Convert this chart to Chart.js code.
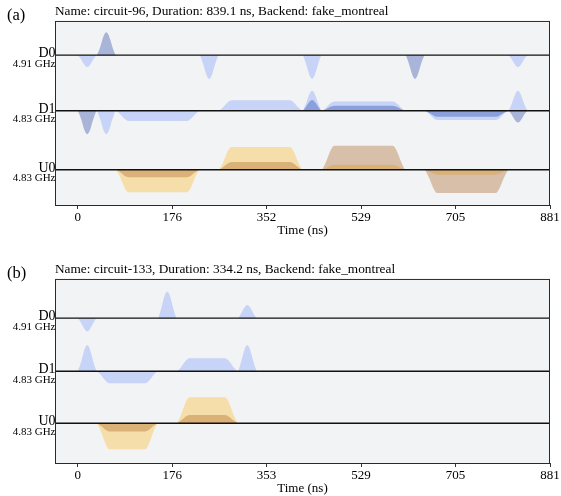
<!DOCTYPE html>
<html>
<head>
<meta charset="utf-8">
<script src="https://cdn.jsdelivr.net/npm/chart.js@4.4.0/dist/chart.umd.min.js"></script>
<style>
  body { margin: 0; background: #fff; }
  #wrap { position: relative; width: 561px; height: 496px; }
  canvas { position: absolute; left: 0; }
</style>
</head>
<body>
<div id="wrap">
  <canvas id="chart_a" width="561" height="240" style="top:0px"></canvas>
  <canvas id="chart_b" width="561" height="256" style="top:240px"></canvas>
</div>
<script>
let tickValues = [0, 176.2, 352.4, 528.7, 704.9, 881.1];
let tickLabelsA = ["0", "176", "352", "529", "705", "881"];
let tickLabelsB = ["0", "176", "353", "529", "705", "881"];

let channels = ["D0", "D1", "U0"];
let freqs = ["4.91 GHz", "4.83 GHz", "4.83 GHz"];

// gaussian envelope sampled at 11 even steps across one pulse
let gaussShape = [0, 0.17, 0.41, 0.69, 0.91, 1, 0.91, 0.69, 0.41, 0.17, 0];

// pulses: [start ns, duration ns, rise/fall ns (0 = plain gaussian), real amp, imag amp]
let d0PulsesA = [
    [0, 35.6, 0, 0, -0.47],
    [35.6, 35.6, 0, 0.92, 0],
    [227.5, 35.6, 0, 0, -0.95],
    [419.5, 35.6, 0, 0, -0.95],
    [611.5, 35.6, 0, -0.95, 0],
    [803.5, 35.6, 0, 0, -0.47]
];
let d1PulsesA = [
    [0, 35.6, 0, -0.94, 0],
    [35.6, 35.6, 0, 0, -0.94],
    [71.1, 156.4, 24, 0, -0.41],
    [263.1, 156.4, 24, 0, 0.42],
    [419.5, 35.6, 0, 0.43, 0.8],
    [455.1, 156.4, 24, 0.2, 0.37],
    [647.1, 156.4, 24, -0.24, -0.37],
    [803.5, 35.6, 0, -0.47, 0.8]
];
let u0PulsesA = [
    [71.1, 156.4, 24, -0.3, -0.9],
    [263.1, 156.4, 24, 0.31, 0.91],
    [455.1, 156.4, 24, 0.96, 0.2],
    [647.1, 156.4, 24, -0.93, -0.2]
];

let d0PulsesB = [
    [0, 35.6, 0, 0, -0.53],
    [149.3, 35.6, 0, 0, 1.07],
    [298.6, 35.6, 0, 0, 0.53]
];
let d1PulsesB = [
    [0, 35.6, 0, 0, 1.05],
    [35.6, 113.7, 24, 0, -0.48],
    [184.9, 113.7, 24, 0, 0.52],
    [298.6, 35.6, 0, 0, 1.05]
];
let u0PulsesB = [
    [35.6, 113.7, 24, -0.33, -1.04],
    [184.9, 113.7, 24, 0.33, 1.04]
];

const SERIF = "'Liberation Serif', 'Times New Roman', serif";
const X_MIN = -42.3, X_MAX = 881.1;

// waveform colours (matplotlib alpha 0.3 fills)
const colD = ["rgba(0,41,153,0.3)", "rgba(100,143,255,0.3)"];
const colU = ["rgba(153,74,0,0.3)", "rgba(255,176,0,0.3)"];

// turns a pulse list into points for one component (0 = real, 1 = imag)
function envelope(pulses, comp, offset) {
    let pts = [];
    let add = (x, y) => {
        let last = pts[pts.length - 1];
        if (last && Math.abs(last.x - x) < 0.01) return;
        pts.push({x: x, y: y});
    };
    pulses.forEach(p => {
        let t0 = p[0], dur = p[1], rf = p[2];
        let amp = comp === 0 ? p[3] : p[4];
        if (!amp) return;
        if (rf === 0) {
            gaussShape.forEach((s, i) => add(t0 + dur * i / 10, offset + amp * s));
        } else {
            for (let i = 0; i <= 5; i++) add(t0 + rf * i / 5, offset + amp * gaussShape[i]);
            for (let i = 5; i <= 10; i++) add(t0 + dur - rf + rf * (i - 5) / 5, offset + amp * gaussShape[i]);
        }
    });
    return pts;
}

let panelPlugin = {
    id: "panel",
    beforeDraw(chart) {
        let a = chart.chartArea, ctx = chart.ctx;
        ctx.save();
        ctx.fillStyle = "#f2f3f4";
        ctx.fillRect(a.left, a.top, a.right - a.left, a.bottom - a.top);
        ctx.restore();
    },
    afterDraw(chart) {
        let a = chart.chartArea, ctx = chart.ctx;
        let o = chart.options.plugins.panel;
        ctx.save();
        ctx.strokeStyle = "#2a2a2a";
        ctx.lineWidth = 1;
        ctx.strokeRect(a.left + 0.5, a.top + 0.5, a.right - a.left - 1, a.bottom - a.top);
        ctx.fillStyle = "#000";
        ctx.textAlign = "right";
        ctx.textBaseline = "alphabetic";
        o.offsets.forEach((off, i) => {
            let y = chart.scales.y.getPixelForValue(off);
            ctx.font = "14px " + SERIF;
            ctx.fillText(channels[i], a.left + 0.5, y + 1.8);
            ctx.font = "11px " + SERIF;
            ctx.fillText(freqs[i], a.left + 0.5, y + 11.5);
        });
        ctx.textAlign = "left";
        ctx.font = "16.5px " + SERIF;
        ctx.fillText(o.letter, 7, a.top - 0.5);
        ctx.restore();
    }
};

function makeChart(id, title, letter, rows, tickLabels, layout) {
    let datasets = [];
    // baselines first so they end up on top
    layout.offsets.forEach(off => {
        datasets.push({
            data: [{x: X_MIN, y: off}, {x: X_MAX, y: off}],
            borderColor: "#111", borderWidth: 1.3, pointRadius: 0, fill: false
        });
    });
    [0, 1].forEach(comp => {
        rows.forEach((pulses, i) => {
            let cols = channels[i][0] === "U" ? colU : colD;
            datasets.push({
                data: envelope(pulses, comp, layout.offsets[i]),
                borderWidth: 0, pointRadius: 0,
                backgroundColor: cols[comp],
                fill: {value: layout.offsets[i]},
                cubicInterpolationMode: "monotone"
            });
        });
    });

    return new Chart(id, {
        type: "line",
        data: {datasets: datasets},
        plugins: [panelPlugin],
        options: {
            responsive: false,
            animation: false,
            devicePixelRatio: 1,
            layout: {padding: {left: 55, right: 11, top: layout.padTop, bottom: 0}},
            scales: {
                x: {
                    type: "linear", min: X_MIN, max: X_MAX,
                    afterBuildTicks: s => { s.ticks = tickValues.map(v => ({value: v})); },
                    afterFit: s => { s.height = layout.axisHeight; },
                    grid: {display: true, drawOnChartArea: false, drawTicks: true, tickLength: 4, color: "#333"},
                    border: {display: false},
                    ticks: {
                        autoSkip: false, maxRotation: 0, padding: 1, color: "#000",
                        font: {family: SERIF, size: 13},
                        callback: (v, i) => tickLabels[i]
                    },
                    title: {
                        display: true, text: "Time (ns)", color: "#000",
                        font: {family: SERIF, size: 13}, padding: {top: 0, bottom: layout.titlePad}
                    }
                },
                y: {display: false, min: layout.yMin, max: 0}
            },
            plugins: {
                legend: {display: false},
                tooltip: {enabled: false},
                title: {
                    display: true, text: title, align: "start", color: "#000",
                    font: {family: SERIF, size: 13.3, weight: "normal"},
                    padding: {top: 4, bottom: 1}
                },
                panel: {letter: letter, offsets: layout.offsets}
            }
        }
    });
}

makeChart("chart_a", "Name: circuit-96, Duration: 839.1 ns, Backend: fake_montreal", "(a)",
    [d0PulsesA, d1PulsesA, u0PulsesA], tickLabelsA,
    {offsets: [-1.37, -3.59, -5.95], yMin: -7.36, padTop: 0, axisHeight: 35, titlePad: 2});

makeChart("chart_b", "Name: circuit-133, Duration: 334.2 ns, Backend: fake_montreal", "(b)",
    [d0PulsesB, d1PulsesB, u0PulsesB], tickLabelsB,
    {offsets: [-1.57, -3.69, -5.77], yMin: -7.36, padTop: 18, axisHeight: 33, titlePad: 0});
</script>
</body>
</html>
